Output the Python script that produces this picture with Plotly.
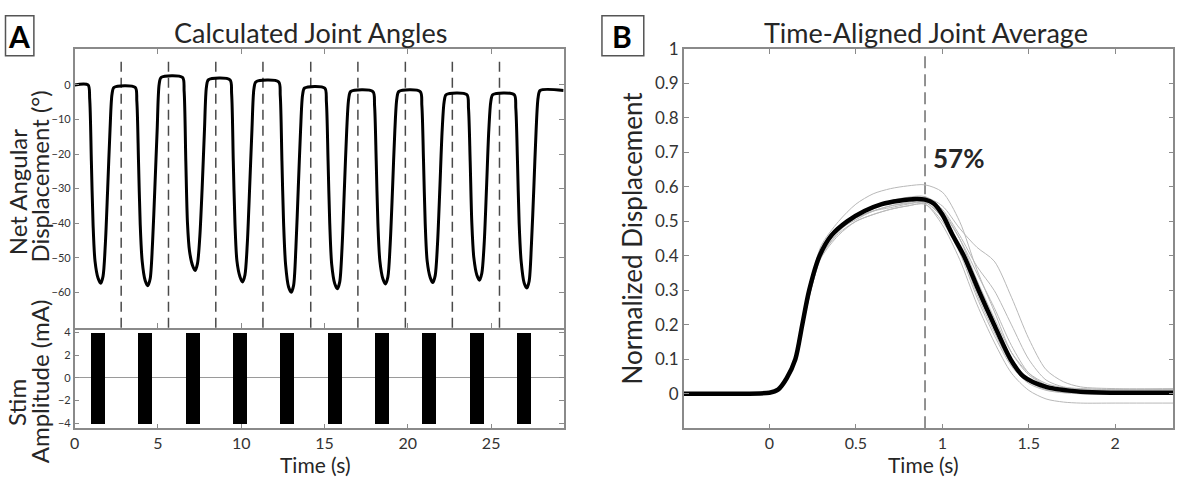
import plotly.graph_objects as go

# ---------------- Panel A: joint angle trace ----------------
angle_time = [0.0,
    0.80, 0.90, 1.00, 1.10, 1.22, 1.40, 1.56, 1.70, 1.84, 1.98, 2.12, 2.24, 2.36,
    3.63, 3.73, 3.83, 3.93, 4.05, 4.23, 4.39, 4.53, 4.67, 4.81, 4.95, 5.07, 5.19,
    6.47, 6.57, 6.67, 6.77, 6.89, 7.07, 7.23, 7.37, 7.51, 7.65, 7.79, 7.91, 8.03,
    9.32, 9.42, 9.52, 9.62, 9.74, 9.92, 10.08, 10.22, 10.36, 10.50, 10.64, 10.76, 10.88,
    12.24, 12.34, 12.44, 12.54, 12.66, 12.84, 13.00, 13.14, 13.28, 13.42, 13.56, 13.68, 13.80,
    15.01, 15.11, 15.21, 15.31, 15.43, 15.61, 15.77, 15.91, 16.05, 16.19, 16.33, 16.45, 16.57,
    17.90, 18.00, 18.10, 18.20, 18.32, 18.50, 18.66, 18.80, 18.94, 19.08, 19.22, 19.34, 19.46,
    20.74, 20.84, 20.94, 21.04, 21.16, 21.34, 21.50, 21.64, 21.78, 21.92, 22.06, 22.18, 22.30,
    23.54, 23.64, 23.74, 23.84, 23.96, 24.14, 24.30, 24.44, 24.58, 24.72, 24.86, 24.98, 25.10,
    26.38, 26.48, 26.58, 26.68, 26.80, 26.98, 27.14, 27.28, 27.42, 27.56, 27.70, 27.82, 27.94,
    29.35]
angle_deg = [0.0,
    0.0, -4, -22, -40, -51, -55.9, -57.4, -55.4, -46, -30, -13, -2.7, -0.7,
    -0.7, -4.7, -22, -40, -51, -56.6, -58.1, -56.1, -46, -30, -13, 0.2, 2.2,
    2.2, -1.8, -22, -40, -48, -52.2, -53.7, -51.7, -44, -30, -13, -0.5, 1.5,
    1.5, -2.5, -22, -40, -51, -55.5, -57.0, -55.0, -46, -30, -13, -1.1, 0.9,
    0.9, -3.1, -22, -40, -52, -58.5, -60.0, -58.0, -47, -30, -13, -2.9, -0.9,
    -0.9, -4.9, -22, -40, -52, -57.5, -59.0, -57.0, -47, -30, -13, -3.9, -1.9,
    -1.9, -5.9, -22, -40, -51, -56.1, -57.6, -55.6, -46, -30, -13, -3.9, -1.9,
    -1.9, -5.9, -22, -40, -51, -55.7, -57.2, -55.2, -46, -30, -13, -4.8, -2.8,
    -2.8, -6.8, -22, -40, -50, -55.0, -56.5, -54.5, -46, -30, -13, -4.8, -2.8,
    -2.8, -6.8, -22, -40, -51, -57.3, -58.8, -56.8, -46, -30, -13, -3.6, -1.6,
    -1.6]

dashed_times_A = [2.79, 5.63, 8.47, 11.30, 14.17, 17.00, 19.85, 22.67, 25.50]

# stimulation pulses
stim_onsets = [0.96, 3.80, 6.65, 9.48, 12.30, 15.20, 18.00, 20.85, 23.70, 26.55]
stim_duration = 0.84
stim_low = [-4, -4, -4, -4, -4, -4, -4, -4, -4, -4]
stim_high = [4, 4, 4, 4, 4, 4, 4, 4, 4, 4]

# ---------------- Panel B: time-aligned average ----------------
mean_time = [-0.495, -0.2, 0.0, 0.05, 0.1, 0.15, 0.19, 0.23, 0.29, 0.36, 0.45, 0.55, 0.65,
             0.75, 0.85, 0.9, 0.95, 1.0, 1.06, 1.125, 1.21, 1.3, 1.395, 1.47, 1.6, 1.8, 2.0, 2.336]
mean_disp = [0.0, 0.0, 0.003, 0.012, 0.045, 0.1, 0.2, 0.3, 0.4, 0.46, 0.5, 0.53, 0.55,
             0.56, 0.565, 0.563, 0.552, 0.52, 0.46, 0.4, 0.3, 0.2, 0.1, 0.05, 0.02, 0.006, 0.003, 0.003]

trial_time = [-0.495, 0.0, 0.05, 0.1, 0.15, 0.2, 0.25, 0.3, 0.4, 0.5, 0.6, 0.7, 0.8, 0.9,
              1.0, 1.1, 1.2, 1.3, 1.4, 1.5, 1.6, 1.7, 1.8, 2.0, 2.336]
trial_1 = [0, 0.002, 0.012, 0.048, 0.105, 0.235, 0.345, 0.43, 0.5, 0.55, 0.58, 0.595, 0.603, 0.606, 0.585, 0.5, 0.36, 0.24, 0.12, 0.055, 0.025, 0.015, 0.01, 0.008, 0.008]
trial_2 = [0, 0.003, 0.01, 0.04, 0.095, 0.215, 0.32, 0.4, 0.47, 0.51, 0.54, 0.555, 0.565, 0.57, 0.545, 0.48, 0.425, 0.385, 0.28, 0.16, 0.07, 0.035, 0.02, 0.015, 0.015]
trial_3 = [0, 0.0, 0.01, 0.04, 0.095, 0.215, 0.32, 0.395, 0.46, 0.5, 0.52, 0.535, 0.545, 0.55, 0.49, 0.39, 0.26, 0.15, 0.06, 0.01, -0.015, -0.024, -0.027, -0.027, -0.027]
trial_4 = [0, 0.004, 0.014, 0.05, 0.11, 0.235, 0.34, 0.415, 0.48, 0.515, 0.54, 0.555, 0.565, 0.567, 0.53, 0.45, 0.33, 0.22, 0.12, 0.06, 0.03, 0.018, 0.014, 0.012, 0.012]
trial_5 = [0, 0.002, 0.011, 0.042, 0.095, 0.215, 0.32, 0.4, 0.465, 0.5, 0.52, 0.535, 0.545, 0.55, 0.5, 0.41, 0.28, 0.17, 0.08, 0.03, 0.01, 0.003, 0.0, -0.002, -0.002]
trial_6 = [0, 0.003, 0.013, 0.048, 0.105, 0.23, 0.335, 0.415, 0.48, 0.51, 0.53, 0.545, 0.555, 0.56, 0.525, 0.45, 0.35, 0.25, 0.14, 0.06, 0.025, 0.012, 0.008, 0.006, 0.006]
trial_7 = [0, 0.003, 0.012, 0.045, 0.1, 0.22, 0.325, 0.405, 0.475, 0.505, 0.53, 0.545, 0.552, 0.555, 0.51, 0.42, 0.29, 0.18, 0.085, 0.035, 0.012, 0.005, 0.003, 0.002, 0.002]
trial_8 = [0, 0.004, 0.014, 0.05, 0.105, 0.225, 0.33, 0.41, 0.48, 0.52, 0.545, 0.56, 0.57, 0.572, 0.535, 0.46, 0.37, 0.3, 0.2, 0.1, 0.04, 0.02, 0.015, 0.013, 0.013]
trial_9 = [0, 0.002, 0.011, 0.044, 0.1, 0.225, 0.33, 0.41, 0.475, 0.51, 0.53, 0.54, 0.55, 0.555, 0.515, 0.43, 0.3, 0.19, 0.09, 0.04, 0.018, 0.008, 0.005, 0.003, 0.003]
trials = [trial_1, trial_2, trial_3, trial_4, trial_5, trial_6, trial_7, trial_8, trial_9]

peak_time_B = 0.9
peak_label = "57%"
peak_label_y = 0.685

# tick definitions
tickvals_A_x = [0, 5, 10, 15, 20, 25]
tickvals_A_y = [-60, -50, -40, -30, -20, -10, 0]
tickvals_stim = [-4, -2, 0, 2, 4]
tickvals_B_x = [0, 0.5, 1, 1.5, 2]
ticktext_B_x = ["0", "0.5", "1", "1.5", "2"]
tickvals_B_y = [0, 0.1, 0.2, 0.3, 0.4, 0.5, 0.6, 0.7, 0.8, 0.9, 1.0]
ticktext_B_y = ["0", "0.1", "0.2", "0.3", "0.4", "0.5", "0.6", "0.7", "0.8", "0.9", "1"]

# ---------------- geometry ----------------
W, H = 1177, 478
def px(x):
    return x / W
def py(y):
    return 1 - y / H

FONT = "Lato"
AX = "#8a8a8a"
TXT = "#262626"

fig = go.Figure()

fig.add_trace(go.Scatter(x=angle_time, y=angle_deg, mode="lines",
                         line=dict(color="black", width=3, shape="spline", smoothing=0.8),
                         xaxis="x", yaxis="y", showlegend=False, hoverinfo="skip"))

fig.add_trace(go.Bar(x=stim_onsets, y=[h - l for h, l in zip(stim_high, stim_low)], base=stim_low,
                     offset=0, width=stim_duration, marker=dict(color="black", line=dict(width=0)),
                     xaxis="x2", yaxis="y2", showlegend=False, hoverinfo="skip"))

for tr in trials:
    fig.add_trace(go.Scatter(x=trial_time, y=tr, mode="lines",
                             line=dict(color="#b8b8b8", width=1, shape="spline", smoothing=0.8),
                             xaxis="x3", yaxis="y3", showlegend=False, hoverinfo="skip"))
fig.add_trace(go.Scatter(x=mean_time, y=mean_disp, mode="lines",
                         line=dict(color="black", width=4.5, shape="spline", smoothing=0.8),
                         xaxis="x3", yaxis="y3", showlegend=False, hoverinfo="skip"))

shapes = []
for t in dashed_times_A:
    shapes.append(dict(type="line", xref="x", yref="y domain", x0=t, x1=t, y0=0, y1=0.972,
                       line=dict(color="#4a4a4a", width=1.5, dash="10px,6px"), layer="below"))
shapes.append(dict(type="line", xref="x3", yref="y3 domain", x0=peak_time_B, x1=peak_time_B,
                   y0=0, y1=0.992, line=dict(color="#4a4a4a", width=1.2, dash="12px,6px"), layer="below"))
# panel letter boxes
shapes.append(dict(type="rect", xref="paper", yref="paper", x0=px(0.5), x1=px(29), y0=py(46), y1=py(5),
                   line=dict(color="#555555", width=1.5)))
shapes.append(dict(type="rect", xref="paper", yref="paper", x0=px(599.5), x1=px(641.5), y0=py(46), y1=py(5),
                   line=dict(color="#555555", width=1.5)))

def ann(text, x, y, size, angle=0, bold=False, color=TXT):
    return dict(text=("<b>%s</b>" % text) if bold else text, x=px(x), y=py(y), xref="paper", yref="paper",
                xanchor="center", yanchor="middle", showarrow=False, textangle=angle,
                font=dict(family=FONT, size=size, color=color))

annotations = [
    ann("Calculated Joint Angles", 307, 22, 27),
    ann("Time-Aligned Joint Average", 925, 22, 27),
    ann("Time (s)", 312, 465, 21),
    ann("Time (s)", 922, 465, 21),
    ann("Net Angular", 12, 185, 24, angle=-90),
    ann("Displacement (°)", 35, 170, 24, angle=-90),
    ann("Stim", 12, 401, 24, angle=-90),
    ann("Amplitude (mA)", 35, 380, 24, angle=-90),
    ann("Normalized Displacement", 630, 233, 26, angle=-90),
    ann("A", 14, 26, 30, bold=True, color="black"),
    ann("B", 620, 26, 30, bold=True, color="black"),
    dict(text="<b>%s</b>" % peak_label, x=peak_time_B, y=peak_label_y, xref="x3", yref="y3", xanchor="left",
         yanchor="middle", xshift=6, showarrow=False, font=dict(family=FONT, size=26, color=TXT)),
]

common = dict(showline=True, linecolor=AX, linewidth=1.5, ticks="inside", ticklen=5, tickcolor=AX,
              tickwidth=1, mirror="ticks", showgrid=False, zeroline=False)

xA = [70, 561]
xB = [681.7, 1173.3]
fig.update_layout(
    width=W, height=H, margin=dict(l=0, r=0, t=0, b=0),
    paper_bgcolor="white", plot_bgcolor="rgba(0,0,0,0)",
    font=dict(family=FONT, color=TXT),
    bargap=0,
    xaxis=dict(domain=[px(xA[0]), px(xA[1])], anchor="y", range=[0, 29.35], tickvals=tickvals_A_x,
               showticklabels=False, **common),
    yaxis=dict(domain=[py(325), py(39)], anchor="x", range=[-70.3, 10.4], tickvals=tickvals_A_y,
               tickfont=dict(size=11, color="#333"), **common),
    xaxis2=dict(domain=[px(xA[0]), px(xA[1])], anchor="y2", range=[0, 29.35], tickvals=tickvals_A_x,
                tickfont=dict(size=16, color="#333"),
                **{**common, "mirror": False}),
    yaxis2=dict(domain=[py(428), py(325)], anchor="x2", range=[-4.43, 4.4], tickvals=tickvals_stim,
                tickfont=dict(size=11, color="#333"), **common),
    xaxis3=dict(domain=[px(xB[0]), px(xB[1])], anchor="y3", range=[-0.495, 2.336], tickvals=tickvals_B_x,
                ticktext=ticktext_B_x, tickfont=dict(size=16, color="#333"), **common),
    yaxis3=dict(domain=[py(428), py(39)], anchor="x3", range=[-0.1, 1.0], tickvals=tickvals_B_y,
                ticktext=ticktext_B_y, tickfont=dict(size=17, color="#333"), **common),
    shapes=shapes,
    annotations=annotations,
)
# zero line in stim panel
fig.update_yaxes(selector=dict(anchor="x2"), zeroline=True, zerolinecolor="#9a9a9a", zerolinewidth=1)

fig.write_html("out.html")
